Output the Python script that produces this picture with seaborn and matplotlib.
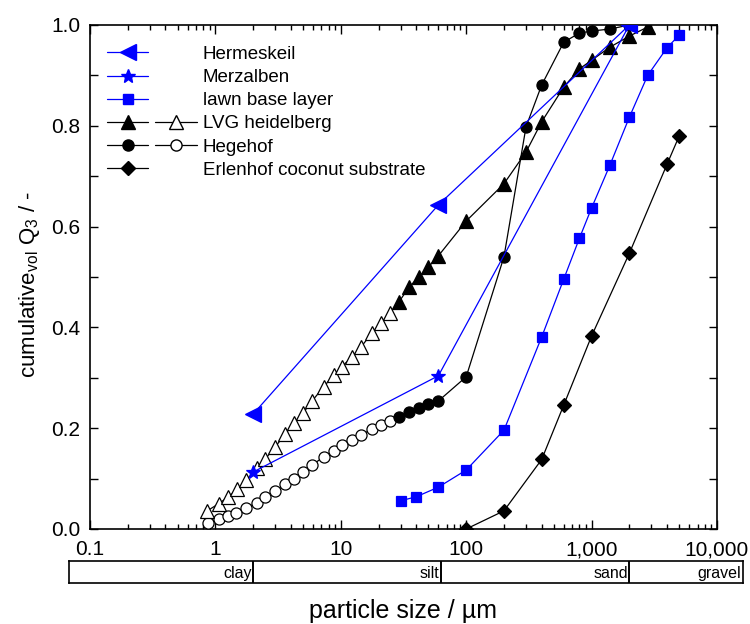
import matplotlib
matplotlib.use("Agg")
import matplotlib.pyplot as plt
import seaborn as sns
from matplotlib.lines import Line2D
from matplotlib.legend_handler import HandlerTuple
from matplotlib.ticker import FixedLocator, FixedFormatter, LogLocator, MultipleLocator, NullFormatter, FormatStrFormatter

# ---------------- data ----------------
herm_x = [2, 60, 2000]
herm_y = [0.228, 0.643, 1.0]

merz_x = [2, 60, 2000]
merz_y = [0.113, 0.304, 1.0]

lawn_x = [30, 40, 60, 100, 200, 400, 600, 800, 1000, 1400, 2000, 2800, 4000, 5000]
lawn_y = [0.056, 0.064, 0.083, 0.117, 0.196, 0.381, 0.496, 0.577, 0.637, 0.722, 0.817, 0.900, 0.955, 0.980]

lvg_open_x = [0.86, 1.06, 1.27, 1.5, 1.77, 2.13, 2.5, 3.0, 3.6, 4.2, 5.0, 5.9, 7.3, 8.8, 10.2, 12.2, 14.5, 17.7, 20.9, 24.7]
lvg_open_y = [0.036, 0.050, 0.064, 0.079, 0.097, 0.121, 0.139, 0.163, 0.188, 0.210, 0.230, 0.254, 0.282, 0.306, 0.322, 0.341, 0.361, 0.389, 0.409, 0.429]
lvg_fill_x = [29, 35, 42, 50, 60, 100, 200, 300, 400, 600, 800, 1000, 1400, 2000, 2800]
lvg_fill_y = [0.450, 0.480, 0.500, 0.520, 0.542, 0.611, 0.685, 0.748, 0.808, 0.877, 0.913, 0.930, 0.956, 0.978, 0.996]

hege_open_x = [0.88, 1.06, 1.25, 1.47, 1.77, 2.13, 2.5, 3.0, 3.6, 4.2, 5.0, 5.9, 7.3, 8.8, 10.2, 12.2, 14.6, 17.7, 20.9, 24.7]
hege_open_y = [0.012, 0.020, 0.026, 0.032, 0.042, 0.052, 0.064, 0.075, 0.089, 0.100, 0.113, 0.127, 0.143, 0.155, 0.166, 0.177, 0.187, 0.198, 0.206, 0.215]
hege_fill_x = [29, 35, 42, 50, 60, 100, 200, 300, 400, 600, 800, 1000, 1400, 2000]
hege_fill_y = [0.222, 0.232, 0.240, 0.248, 0.254, 0.302, 0.540, 0.798, 0.881, 0.966, 0.984, 0.988, 0.992, 1.000]

erl_x = [100, 200, 400, 600, 1000, 2000, 4000, 5000]
erl_y = [0.000, 0.036, 0.138, 0.246, 0.383, 0.547, 0.724, 0.780]

series_labels = ["Hermeskeil", "Merzalben", "lawn base layer", "LVG heidelberg",
                 "Hegehof", "Erlenhof coconut substrate"]

x_tick_values = [0.1, 1, 10, 100, 1000, 10000]
x_tick_labels = ["0.1", "1", "10", "100", "1,000", "10,000"]

class_edges = [2, 63, 2000]
class_names = ["clay", "silt", "sand", "gravel"]

# ---------------- style ----------------
sns.set_theme(style="ticks")
plt.rcParams['font.family'] = ['Liberation Sans', 'DejaVu Sans']
plt.rcParams['mathtext.fontset'] = 'custom'
plt.rcParams['mathtext.rm'] = 'Liberation Sans'
plt.rcParams['mathtext.it'] = 'Liberation Sans:italic'
plt.rcParams['axes.edgecolor'] = 'black'
plt.rcParams['text.color'] = 'black'
plt.rcParams['xtick.color'] = 'black'
plt.rcParams['ytick.color'] = 'black'

BLUE = '#0000ff'
BLACK = '#000000'

MS_TRI = 9.5
MS_CIR = 8
MS_SQ = 7
MS_DIA = 7.5
MS_STAR = 10
MS_LEFT = 11

fig = plt.figure(figsize=(7.5, 6.24), dpi=100)
ax = fig.add_axes([90 / 750, 1 - 529 / 624, 627 / 750, 504 / 624])


def draw(x, y, color, marker=None, ms=7, mfc=None, lw=0.9, ls='-', z=2):
    kw = dict(x=x, y=y, ax=ax, color=color, linewidth=lw, sort=False,
              estimator=None, zorder=z)
    if marker is not None:
        kw.update(marker=marker, markersize=ms, markerfacecolor=mfc if mfc else color,
                  markeredgecolor=color, markeredgewidth=0.9)
    if ls != '-':
        kw.update(linestyle=ls)
    sns.lineplot(**kw)


# Erlenhof
draw(erl_x, erl_y, BLACK, 'D', ms=MS_DIA, z=3)
# Hegehof (line + open/filled markers)
draw(hege_open_x + hege_fill_x, hege_open_y + hege_fill_y, BLACK, z=3)
draw(hege_open_x, hege_open_y, BLACK, 'o', ms=MS_CIR, mfc='white', ls='', z=4)
draw(hege_fill_x, hege_fill_y, BLACK, 'o', ms=MS_CIR, ls='', z=4)
# LVG heidelberg
draw(lvg_open_x + lvg_fill_x, lvg_open_y + lvg_fill_y, BLACK, z=3)
draw(lvg_open_x, lvg_open_y, BLACK, '^', ms=MS_TRI, mfc='white', ls='', z=4)
draw(lvg_fill_x, lvg_fill_y, BLACK, '^', ms=MS_TRI, ls='', z=4)
# lawn base layer
draw(lawn_x, lawn_y, BLUE, 's', ms=MS_SQ, z=5)
# Merzalben
draw(merz_x, merz_y, BLUE, '*', ms=MS_STAR, z=5)
# Hermeskeil
draw(herm_x, herm_y, BLUE, '<', ms=MS_LEFT, z=6)

ax.set_xscale('log')
ax.set_xlim(0.1, 10000)
ax.set_ylim(0, 1)
ax.xaxis.set_major_locator(FixedLocator(x_tick_values))
ax.xaxis.set_major_formatter(FixedFormatter(x_tick_labels))
ax.xaxis.set_minor_locator(LogLocator(base=10, subs=range(2, 10), numticks=20))
ax.xaxis.set_minor_formatter(NullFormatter())
ax.yaxis.set_major_locator(MultipleLocator(0.2))
ax.yaxis.set_minor_locator(MultipleLocator(0.1))
ax.yaxis.set_major_formatter(FormatStrFormatter('%.1f'))
ax.set_xlabel('')
ax.set_ylabel('')
ax.tick_params(which='both', direction='in', top=True, right=True, width=1.0, labelsize=15)
ax.tick_params(axis='x', which='major', length=6.5, pad=8)
ax.tick_params(axis='x', which='minor', length=3.5)
ax.tick_params(axis='y', which='both', length=5.5, pad=7)
for s in ax.spines.values():
    s.set_linewidth(1.2)
    s.set_color('black')

# legend
blank = Line2D([], [], linestyle='none')
h_herm = Line2D([], [], color=BLUE, marker='<', ms=MS_LEFT, lw=0.9)
h_merz = Line2D([], [], color=BLUE, marker='*', ms=MS_STAR, lw=0.9)
h_lawn = Line2D([], [], color=BLUE, marker='s', ms=MS_SQ, lw=0.9)
h_lvg_f = Line2D([], [], color=BLACK, marker='^', ms=MS_TRI, lw=0.9)
h_lvg_o = Line2D([], [], color=BLACK, marker='^', ms=MS_TRI, mfc='white', lw=0.9)
h_hege_f = Line2D([], [], color=BLACK, marker='o', ms=MS_CIR, lw=0.9)
h_hege_o = Line2D([], [], color=BLACK, marker='o', ms=MS_CIR, mfc='white', lw=0.9)
h_erl = Line2D([], [], color=BLACK, marker='D', ms=MS_DIA, lw=0.9)
handles = [(h_herm, blank), (h_merz, blank), (h_lawn, blank),
           (h_lvg_f, h_lvg_o), (h_hege_f, h_hege_o), (h_erl, blank)]
ax.legend(handles=handles, labels=series_labels,
          handler_map={tuple: HandlerTuple(ndivide=None, pad=0.37)},
          loc='upper left', bbox_to_anchor=(0, 0.992), frameon=False,
          fontsize=13.5, handlelength=4.8, handletextpad=0.32,
          labelspacing=0.32, numpoints=1)

# classification bar
bax = fig.add_axes([69 / 750, 1 - 583 / 624, 674 / 750, 22 / 624])
bax.set_xscale('log')
bax.set_xlim(10 ** (-1 - 21 / 125.4), 10 ** (4 + 26 / 125.4))
bax.set_ylim(0, 1)
bax.set_xticks([])
bax.set_yticks([])
bax.minorticks_off()
for s in bax.spines.values():
    s.set_linewidth(1.2)
    s.set_color('black')
for e in class_edges:
    bax.axvline(e, color='black', lw=1.4)
right_edges = class_edges + [bax.get_xlim()[1]]
for e, name in zip(right_edges, class_names):
    bax.text(e / 1.03, 0.45, name, ha='right', va='center', fontsize=11.5)

fig.text(403 / 750, 1 - 611 / 624, 'particle size / µm', ha='center', va='center', fontsize=18)
fig.text(30 / 750, 1 - 285 / 624, r'cumulative$_\mathregular{vol}$ Q$_\mathregular{3}$ / -',
         ha='center', va='center', rotation=90, fontsize=16)

fig.savefig('out.png', dpi=100, facecolor='white')
